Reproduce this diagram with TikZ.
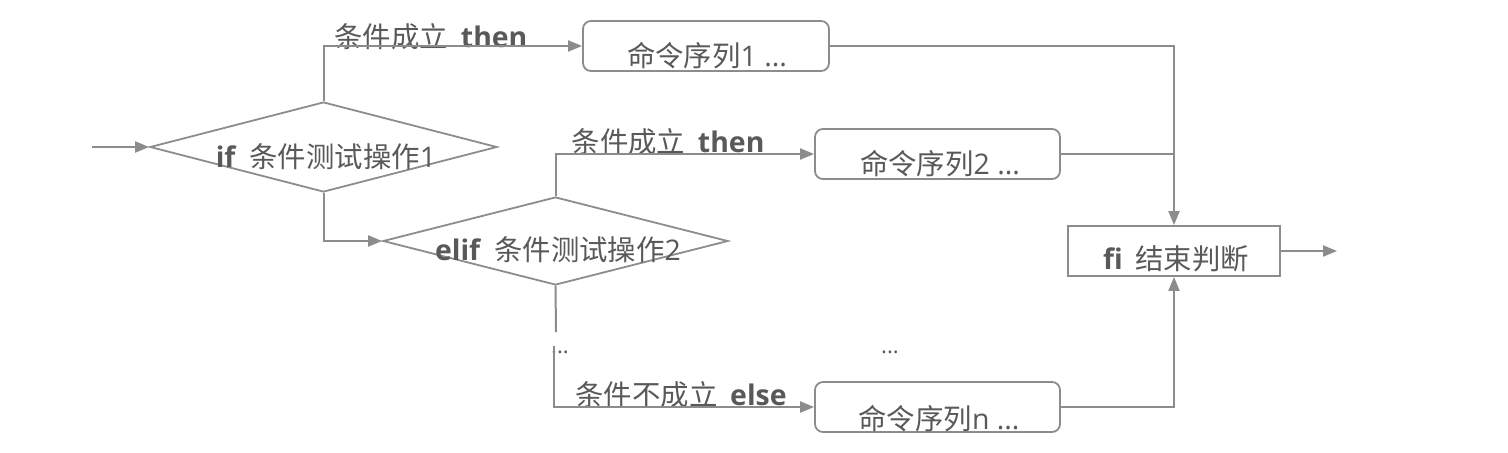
\documentclass[tikz,border=0pt]{standalone}
\usepackage{fontspec}
\setmainfont{Open Sans}
\newfontfamily\cjk{Noto Sans CJK SC}
\usetikzlibrary{shapes.geometric,arrows.meta}
\definecolor{lc}{HTML}{8C8C8C}
\definecolor{tc}{HTML}{595959}
\begin{document}
\begin{tikzpicture}[x=0.5pt,y=-0.5pt,
  line/.style={draw=lc, line width=1pt},
  arr/.style={line, -{Triangle[length=7pt,width=5.5pt]}},
  cmdbox/.style={draw=lc, line width=0.9pt, rounded corners=4pt, minimum width=123pt, minimum height=25pt, inner sep=0pt},
  endbox/.style={draw=lc, line width=0.9pt, minimum width=106pt, minimum height=25pt, inner sep=0pt},
  dia/.style={diamond, draw=lc, line width=0.9pt, inner sep=0pt},
  txt/.style={text=tc, font=\fontsize{14.2}{17}\selectfont, inner sep=0pt},
  dots/.style={text=tc, font=\fontsize{11}{13}\selectfont, inner sep=0pt}]
\useasboundingbox (0,0) rectangle (1508,452);

% decision diamonds
\node[dia, minimum width=173.5pt, minimum height=45pt] (d1) at (323.5,147) {};
\node[dia, minimum width=172.5pt, minimum height=44pt] (d2) at (555.5,241) {};
\node[txt] (t1) at (326,157) {\textbf{if}\hspace{0.45em}{\cjk 条件测试操作}1};
\node[txt] (t2) at (558,250) {\textbf{elif}\hspace{0.45em}{\cjk 条件测试操作}2};

% command boxes
\node[cmdbox] (b1) at (706,46) {};
\node[cmdbox, minimum width=122.5pt] (b2) at (937.5,154) {};
\node[cmdbox, minimum width=122.5pt] (bn) at (937.5,407) {};
\node[txt] (tb1) at (707,56) {{\cjk 命令序列}1 ...};
\node[txt] (tb2) at (940,164) {{\cjk 命令序列}2 ...};
\node[txt] (tbn) at (939,419) {{\cjk 命令序列}n ...};

% end box
\node[endbox] (fi) at (1174,251) {};
\node[txt] (tfi) at (1176,259) {\textbf{fi}\hspace{0.45em}{\cjk 结束判断}};

% branch labels
\node[txt] (l1) at (431,37) {{\cjk 条件成立}\hspace{0.45em}\textbf{then}};
\node[txt] (l2) at (668,142) {{\cjk 条件成立}\hspace{0.45em}\textbf{then}};
\node[txt] (l3) at (681,395) {{\cjk 条件不成立}\hspace{0.45em}\textbf{else}};

% ellipses
\node[dots] (e1) at (560,352) {...};
\node[dots] (e2) at (890,352) {...};

% free ends
\coordinate (in) at (92,147);
\coordinate (out) at (1337,251);
\coordinate (c1) at (556,332);
\coordinate (c2) at (554,346);

% connectors
\draw[arr] (in) -- (d1.west);
\draw[arr] (d1.north) |- (b1.west);
\draw[arr] (d1.south) |- (d2.west);
\draw[arr] (d2.north) |- (b2.west);
\draw[line] (d2.south) -- (c1);
\draw[arr] (c2) |- (bn.west);
\draw[arr] (b1.east) -| (fi.north);
\draw[line] (b2.east) -- (b2.east -| fi.north);
\draw[arr] (bn.east) -| (fi.south);
\draw[arr] (fi.east) -- (out);
\end{tikzpicture}
\end{document}
